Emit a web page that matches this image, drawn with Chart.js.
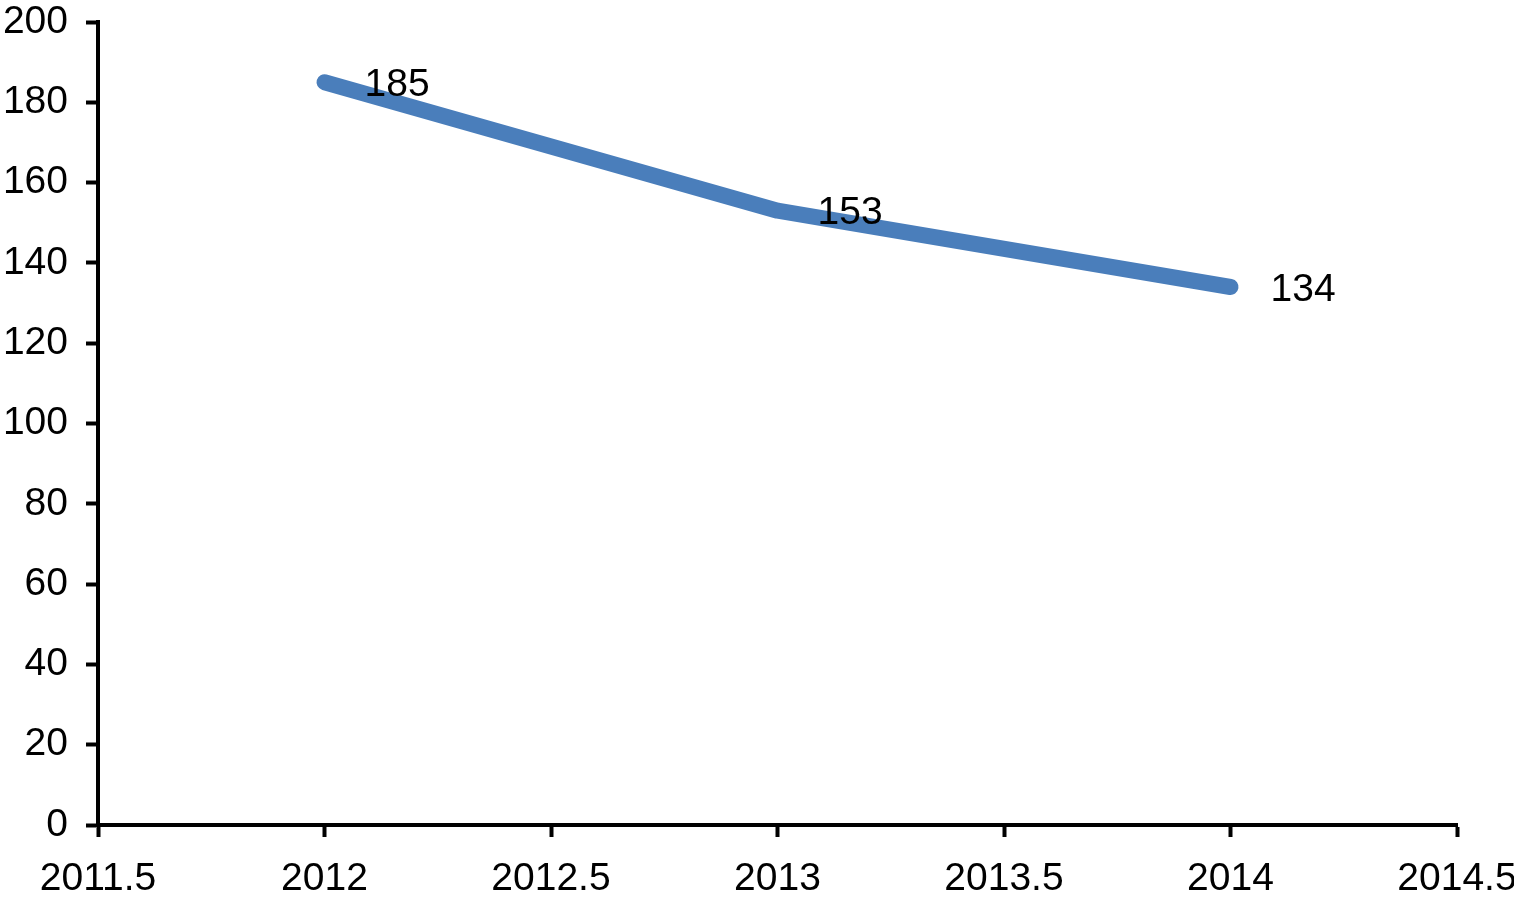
<!DOCTYPE html>
<html>
<head>
<meta charset="utf-8">
<script src="https://cdn.jsdelivr.net/npm/chart.js@4/dist/chart.umd.min.js"></script>
<style>
  html, body { margin: 0; padding: 0; background: #fff; }
  #wrap { width: 1514px; height: 899px; position: relative; }
</style>
</head>
<body>
<div id="wrap"><canvas id="chart"></canvas></div>
<script>
const years = [2012, 2013, 2014];
const counts = [185, 153, 134];
const xTickRange = [2011.5, 2014.5];
const yTickRange = [0, 200];

const FONT = '"Liberation Sans", Arial, sans-serif';
const FONT_SIZE = 39;

// writes each value to the right of its point
const valueLabels = {
  id: 'valueLabels',
  afterDatasetsDraw(chart) {
    const ctx = chart.ctx;
    const meta = chart.getDatasetMeta(0);
    ctx.save();
    ctx.font = FONT_SIZE + 'px ' + FONT;
    ctx.fillStyle = '#000';
    ctx.textAlign = 'left';
    ctx.textBaseline = 'middle';
    meta.data.forEach((pt, i) => {
      ctx.fillText(String(counts[i]), pt.x + 40, pt.y + 3);
    });
    ctx.restore();
  }
};

const points = years.map((y, i) => ({ x: y, y: counts[i] }));

new Chart(document.getElementById('chart').getContext('2d'), {
  type: 'line',
  data: {
    datasets: [{
      data: points,
      borderColor: '#4a7ebb',
      borderWidth: 16,
      borderCapStyle: 'round',
      borderJoinStyle: 'round',
      pointRadius: 0,
      tension: 0,
      fill: false
    }]
  },
  options: {
    responsive: true,
    maintainAspectRatio: false,
    animation: false,
    layout: { autoPadding: false, padding: 0 },
    plugins: {
      legend: { display: false },
      tooltip: { enabled: false }
    },
    scales: {
      x: {
        type: 'linear',
        min: xTickRange[0],
        max: xTickRange[1],
        afterFit: s => {
          s.height = 74;
          s.paddingLeft = 0;
          s.paddingRight = 57;
        },
        border: { color: '#000', width: 4 },
        grid: { drawOnChartArea: false, color: '#000', tickLength: 12, tickWidth: 4 },
        ticks: {
          stepSize: 0.5,
          color: '#000',
          padding: 19,
          maxRotation: 0,
          font: { family: FONT, size: FONT_SIZE },
          callback: v => String(v)
        }
      },
      y: {
        min: yTickRange[0],
        max: yTickRange[1],
        afterFit: s => {
          s.width = 98;
          s.paddingTop = 22;
          s.paddingBottom = 0;
        },
        border: { color: '#000', width: 4 },
        grid: { drawOnChartArea: false, color: '#000', tickLength: 12, tickWidth: 4 },
        ticks: {
          stepSize: 20,
          color: '#000',
          padding: 18,
          font: { family: FONT, size: FONT_SIZE },
          callback: v => String(v)
        }
      }
    }
  },
  plugins: [valueLabels]
});
</script>
</body>
</html>
